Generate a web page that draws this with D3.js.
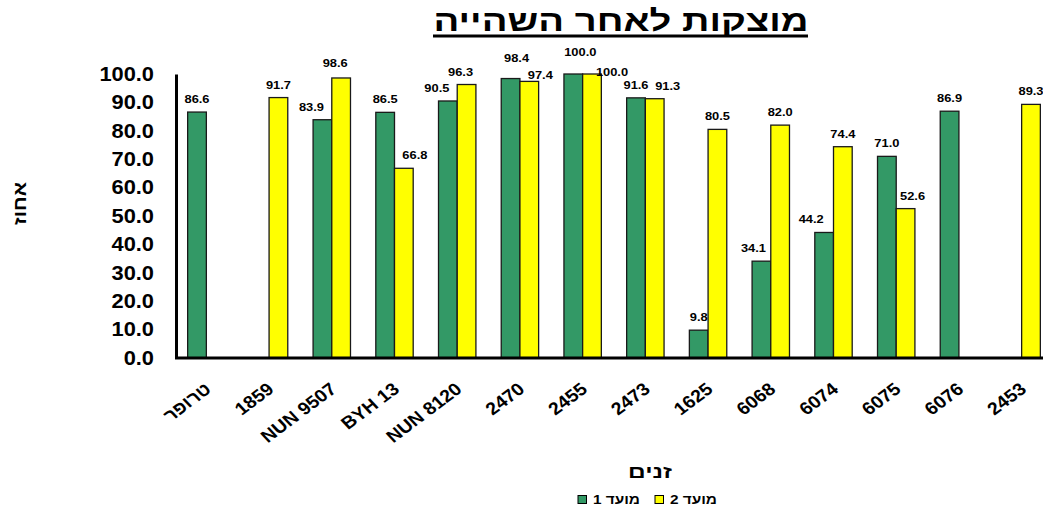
<!DOCTYPE html>
<html>
<head>
<meta charset="utf-8">
<script src="https://cdn.jsdelivr.net/npm/d3@7"></script>
<style>
  body { margin: 0; background: #fff; }
  text { font-family: Arial, "Liberation Sans", sans-serif; font-weight: bold; }
</style>
</head>
<body>
<div class="canvas"></div>
<script>
// data
const categories = ['טרופר', '1859', 'NUN 9507', 'BYH 13', 'NUN 8120', '2470', '2455', '2473', '1625', '6068', '6074', '6075', '6076', '2453'];
const seriesNames = ['מועד 1', 'מועד 2'];
const moed1 = [86.6, null, 83.9, 86.5, 90.5, 98.4, 100.0, 91.6, 9.8, 34.1, 44.2, 71.0, 86.9, null];
const moed2 = [null, 91.7, 98.6, 66.8, 96.3, 97.4, 100.0, 91.3, 80.5, 82.0, 74.4, 52.6, null, 89.3];
const yTicks = [0, 10, 20, 30, 40, 50, 60, 70, 80, 90, 100];

const colors = ['#339966', '#ffff00'];

// label nudges where excel moved labels out of each other's way  (series-index: [dx, dy])
const labelNudge = {
    '0-2': [-11, 0], '1-2': [-6, -2], '1-3': [11, 0], '0-4': [-11, 0], '1-4': [-6, 0],
    '0-5': [6, -8], '1-5': [11, 7], '0-6': [7, -9], '1-6': [20, 11], '1-7': [13, 0],
    '0-9': [-8, 0], '0-10': [-13, 0], '1-11': [7, 0]
};

const width = 1043, height = 512;
const plot = {left: 175, right: 1053, top: 74, bottom: 358};
const sx = 1.12; // the original text is a bit stretched sideways

const svg = d3.select('.canvas')
    .append('svg')
    .attr('width', width)
    .attr('height', height);

// scales
const x0 = d3.scaleBand().domain(categories).range([plot.left, plot.right]);
const x1 = d3.scaleBand().domain([0, 1])
    .range([(x0.bandwidth() - 37.4) / 2, (x0.bandwidth() + 37.4) / 2]);
const y = d3.scaleLinear().domain([0, 100]).range([plot.bottom, plot.top]);

// title
svg.append('text')
    .attr('x', 621)
    .attr('y', 31)
    .attr('text-anchor', 'middle')
    .attr('font-size', 29)
    .attr('textLength', 375)
    .attr('lengthAdjust', 'spacingAndGlyphs')
    .text('מוצקות לאחר השהייה');
svg.append('line')
    .attr('x1', 433).attr('x2', 808)
    .attr('y1', 36).attr('y2', 36)
    .attr('stroke', '#000')
    .attr('stroke-width', 3);

// rows of bar data
const rows = [];
[moed1, moed2].forEach((vals, s) => {
    vals.forEach((v, i) => {
        if (v !== null) rows.push({s, i, v, cat: categories[i]});
    });
});

const graph = svg.append('g');

graph.selectAll('rect.bar')
    .data(rows)
    .enter().append('rect')
    .attr('class', 'bar')
    .attr('x', d => x0(d.cat) + x1(d.s))
    .attr('y', d => y(d.v))
    .attr('width', x1.bandwidth())
    .attr('height', d => y(0) - y(d.v))
    .attr('fill', d => colors[d.s])
    .attr('stroke', '#1a1a1a')
    .attr('stroke-width', 1.3);

// value labels
const nudge = d => labelNudge[d.s + '-' + d.i] || [0, 0];
graph.selectAll('text.val')
    .data(rows)
    .enter().append('text')
    .attr('class', 'val')
    .attr('transform', d => {
        const lx = x0(d.cat) + x1(d.s) + x1.bandwidth() / 2 + nudge(d)[0];
        const ly = y(d.v) - 9 + nudge(d)[1];
        return `translate(${lx}, ${ly}) scale(${sx}, 1)`;
    })
    .attr('text-anchor', 'middle')
    .attr('font-size', 11.5)
    .text(d => d.v.toFixed(1));

// axes
const yAxis = d3.axisLeft(y).tickValues(yTicks).tickSize(0)
    .tickFormat(d => d.toFixed(1));
const yAxisGroup = svg.append('g')
    .attr('transform', `translate(${plot.left + 1}, 0)`)
    .call(yAxis);
yAxisGroup.select('.domain').attr('stroke', '#000').attr('stroke-width', 3);
yAxisGroup.selectAll('text')
    .attr('font-size', 19.5)
    .attr('fill', '#000')
    .attr('font-family', 'Arial, "Liberation Sans", sans-serif')
    .attr('x', 0)
    .attr('transform', `translate(-22, 0) scale(${sx}, 1)`);

const xAxis = d3.axisBottom(x0).tickSize(0).tickPadding(0);
const xAxisGroup = svg.append('g')
    .attr('transform', `translate(0, ${plot.bottom})`)
    .call(xAxis);
xAxisGroup.select('.domain').attr('stroke', '#000').attr('stroke-width', 3)
    .attr('d', `M${plot.left},0H${plot.right}`);
xAxisGroup.selectAll('text')
    .attr('font-size', 17.5)
    .attr('fill', '#000')
    .attr('font-family', 'Arial, "Liberation Sans", sans-serif')
    .attr('text-anchor', 'end')
    .attr('dy', 0)
    .attr('y', 0)
    .attr('transform', `translate(6, 33) scale(${sx}, 1) rotate(-40)`);

// axis titles
svg.append('text')
    .attr('transform', 'translate(26, 203.5) rotate(-90)')
    .attr('text-anchor', 'middle')
    .attr('font-size', 18)
    .attr('textLength', 43)
    .attr('lengthAdjust', 'spacingAndGlyphs')
    .text('אחוז');

svg.append('text')
    .attr('x', 650)
    .attr('y', 478)
    .attr('text-anchor', 'middle')
    .attr('font-size', 18)
    .attr('textLength', 44)
    .attr('lengthAdjust', 'spacingAndGlyphs')
    .text('זנים');

// legend
const legendX = [578, 655];
const legend = svg.append('g');
seriesNames.forEach((name, s) => {
    legend.append('rect')
        .attr('x', legendX[s])
        .attr('y', 495.5)
        .attr('width', 8.5)
        .attr('height', 8)
        .attr('fill', colors[s])
        .attr('stroke', '#000')
        .attr('stroke-width', 1);
    legend.append('text')
        .attr('x', legendX[s] + 15)
        .attr('y', 504)
        .attr('font-size', 12.5)
        .attr('textLength', 47)
        .attr('lengthAdjust', 'spacingAndGlyphs')
        .text(name);
});
</script>
</body>
</html>
